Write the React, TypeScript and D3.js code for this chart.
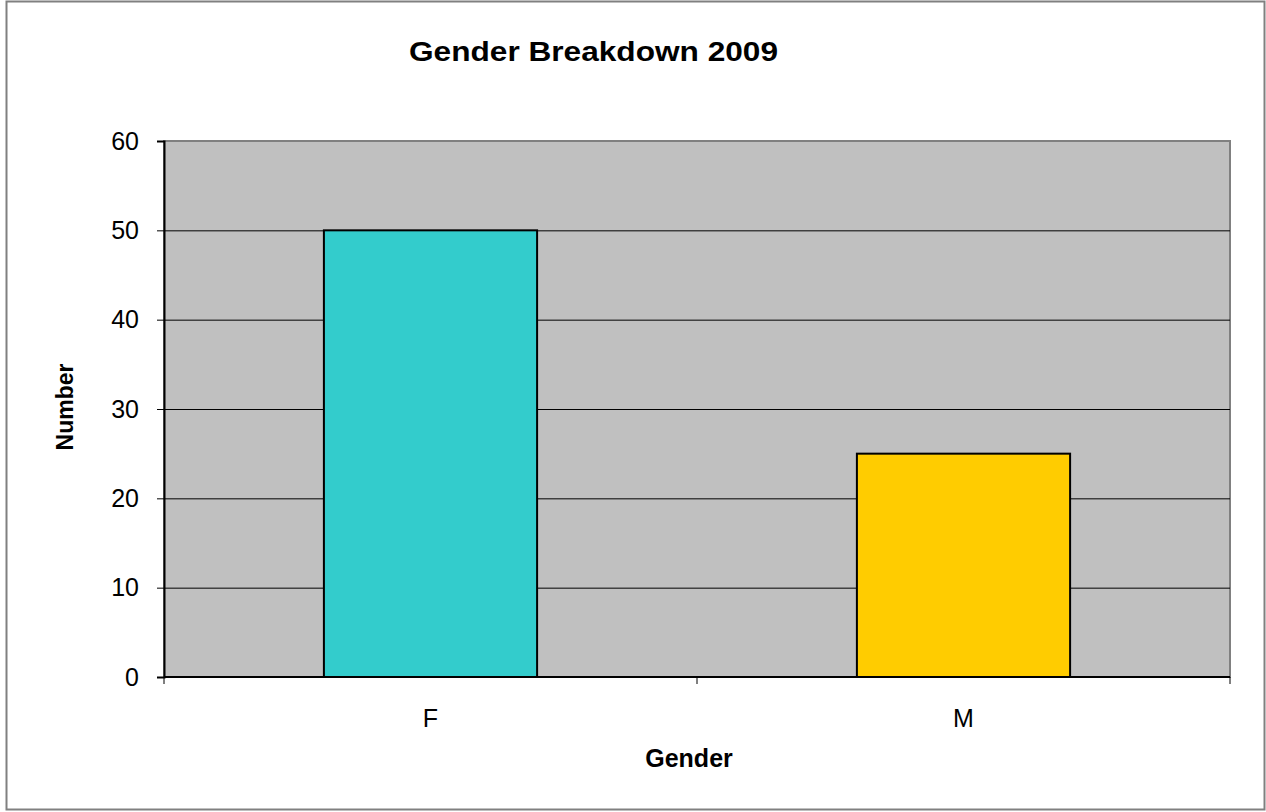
import React, { useEffect, useRef } from 'react';
import * as d3 from 'd3';

const categories = ['F', 'M'];
const counts = [50, 25];
const barColors = ['#33CCCC', '#FFCC00'];
const yTicks = [0, 10, 20, 30, 40, 50, 60];

const W = 1266;
const H = 812;

const App: React.FC = () => {
  const svgRef = useRef<SVGSVGElement>(null);

  useEffect(() => {
    if (!svgRef.current) return;
    const svg = d3.select(svgRef.current);
    svg.selectAll('*').remove();

    const margin = { left: 164, top: 141, right: 1230, bottom: 677 };
    const font = 'Liberation Sans, Arial, sans-serif';

    // outer frame
    svg.append('rect')
      .attr('x', 6.5).attr('y', 1.5)
      .attr('width', 1258).attr('height', 808)
      .attr('fill', '#fff').attr('stroke', '#808080').attr('stroke-width', 2);

    const x = d3.scaleBand<string>()
      .domain(categories)
      .range([margin.left, margin.right])
      .paddingInner(0.6)
      .paddingOuter(0.3);
    const y = d3.scaleLinear().domain([0, 60]).range([margin.bottom, margin.top]);

    // plot area
    svg.append('rect')
      .attr('x', margin.left).attr('y', margin.top)
      .attr('width', margin.right - margin.left)
      .attr('height', margin.bottom - margin.top)
      .attr('fill', '#C0C0C0')
      .attr('stroke', '#808080').attr('stroke-width', 2);

    // gridlines
    svg.append('g').selectAll('line')
      .data(yTicks.filter(t => t > 0 && t < 60))
      .join('line')
      .attr('x1', margin.left).attr('x2', margin.right)
      .attr('y1', d => y(d) + 0.5).attr('y2', d => y(d) + 0.5)
      .attr('stroke', '#000').attr('stroke-width', 1);

    // bars
    svg.append('g').selectAll('rect')
      .data(categories)
      .join('rect')
      .attr('x', d => x(d)!)
      .attr('y', (d, i) => y(counts[i]))
      .attr('width', x.bandwidth())
      .attr('height', (d, i) => y(0) - y(counts[i]))
      .attr('fill', (d, i) => barColors[i])
      .attr('stroke', '#000').attr('stroke-width', 2);

    // y axis
    const yAxis = d3.axisLeft(y).tickValues(yTicks).tickSize(7).tickPadding(18);
    const gy = svg.append('g')
      .attr('transform', `translate(${margin.left},0)`)
      .call(yAxis);
    gy.select('.domain').attr('stroke', '#000').attr('stroke-width', 2);
    gy.selectAll('.tick line').attr('stroke', '#000');
    gy.selectAll('.tick text')
      .attr('font-family', font).attr('font-size', 25).attr('fill', '#000');

    // x axis
    const xBounds = d3.scaleLinear().domain([0, categories.length]).range([margin.left, margin.right]);
    const gx = svg.append('g');
    gx.append('line')
      .attr('x1', margin.left).attr('x2', margin.right)
      .attr('y1', margin.bottom).attr('y2', margin.bottom)
      .attr('stroke', '#000').attr('stroke-width', 2);
    gx.selectAll('line.tick')
      .data(d3.range(categories.length + 1))
      .join('line')
      .attr('class', 'tick')
      .attr('x1', d => xBounds(d)).attr('x2', d => xBounds(d))
      .attr('y1', margin.bottom).attr('y2', margin.bottom + 7)
      .attr('stroke', '#000');
    gx.selectAll('text')
      .data(categories)
      .join('text')
      .attr('x', d => x(d)! + x.bandwidth() / 2)
      .attr('y', 727)
      .attr('text-anchor', 'middle')
      .attr('font-family', font).attr('font-size', 25)
      .text(d => d);

    // titles
    svg.append('text')
      .attr('x', 409).attr('y', 61)
      .attr('textLength', 369).attr('lengthAdjust', 'spacingAndGlyphs')
      .attr('font-family', font).attr('font-size', 28).attr('font-weight', 'bold')
      .text('Gender Breakdown 2009');

    svg.append('text')
      .attr('x', 689).attr('y', 767)
      .attr('text-anchor', 'middle')
      .attr('font-family', font).attr('font-size', 25).attr('font-weight', 'bold')
      .text('Gender');

    svg.append('text')
      .attr('transform', `translate(73,${(margin.top + margin.bottom) / 2 - 2}) rotate(-90)`)
      .attr('text-anchor', 'middle')
      .attr('font-family', font).attr('font-size', 23).attr('font-weight', 'bold')
      .text('Number');
  }, []);

  return (
    <svg
      ref={svgRef}
      width={W}
      height={H}
      style={{ position: 'absolute', left: 0, top: 0, display: 'block' }}
    />
  );
};

export default App;
